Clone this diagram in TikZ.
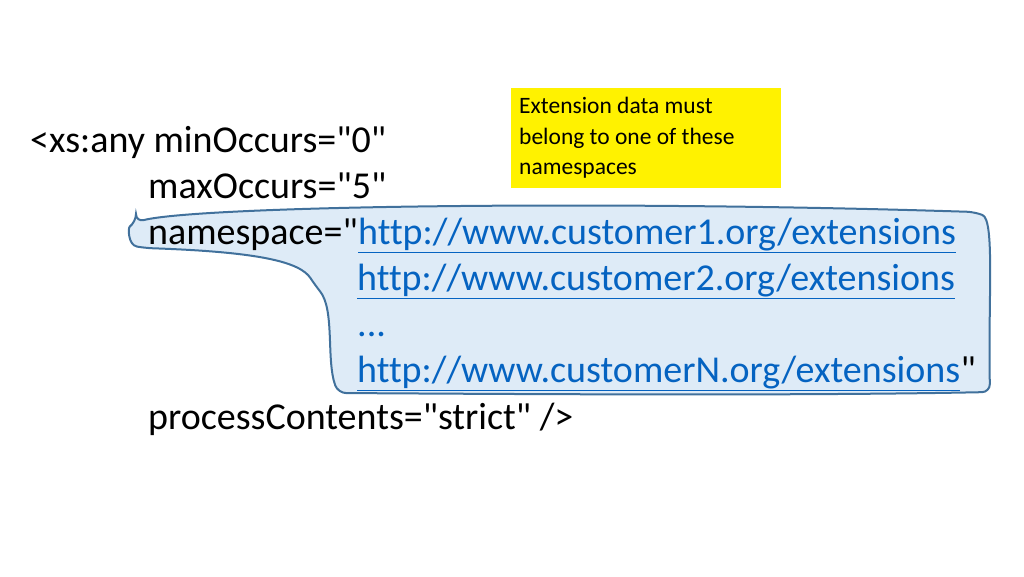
\documentclass[tikz,border=0pt]{standalone}
\usepackage{fontspec}
\setmainfont[Ligatures=NoCommon,Mapping=]{Carlito}
\definecolor{linkblue}{RGB}{5,99,193}
\definecolor{calloutfill}{RGB}{222,235,247}
\definecolor{calloutline}{RGB}{65,113,156}
\newcommand\qt{\char34\relax}
\begin{document}
\begin{tikzpicture}[x=1pt,y=-1pt,
  code/.style={anchor=base west,inner sep=0pt,font=\fontsize{38}{46}\selectfont},
  lnk/.style={code,text=linkblue},
  note/.style={anchor=north west,fill=yellow,text width=254pt,minimum height=100pt,inner xsep=8pt,inner ysep=8pt,align=flush left,font=\fontsize{23.5}{30.5}\selectfont}]
\useasboundingbox (0,0) rectangle (1024,576);
\draw[calloutline,fill=calloutfill,line width=2pt,rounded corners=8pt]
  (136,222) .. controls (200,206) and (600,200) .. (975,212)
  .. controls (995,220) and (988,300) .. (990,392)
  .. controls (800,396) and (500,394) .. (338,393)
  .. controls (326,360) and (335,310) .. (315,285)
  .. controls (300,262) and (260,252) .. (145,248)
  .. controls (128,245) and (128,228) .. (136,222) -- cycle;
\node[note] (n) at (511,88) {Extension data must\\belong to one of these\\namespaces};
\node[code] (l1) at (30,152) {<xs:any minOccurs=\qt0\qt};
\node[code] (l2) at (148,198) {maxOccurs=\qt5\qt};
\node[code] (l3) at (148,244) {namespace=\qt};
\node[lnk] (u1) at (l3.base east) {\underline{http://www.customer1.org/extensions}};
\node[lnk] (u2) at (357,290) {\underline{http://www.customer2.org/extensions}};
\node[lnk] (u3) at (357,336) {...};
\node[lnk] (u4) at (357,382) {\underline{http://www.customerN.org/extensions}};
\node[code] (q) at (u4.base east) {\qt};
\node[code] (l7) at (148,429) {processContents=\qt strict\qt\ />};
\end{tikzpicture}
\end{document}
